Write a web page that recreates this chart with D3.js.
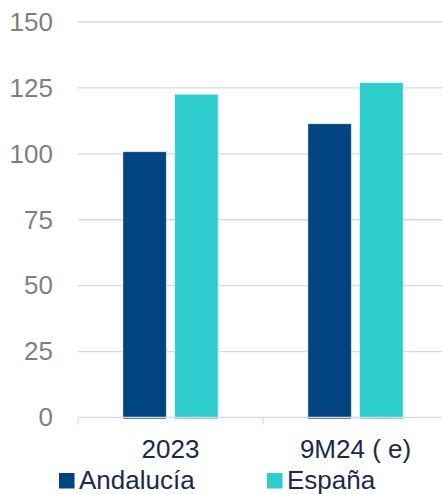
<!DOCTYPE html>
<html>
<head>
<meta charset="utf-8">
<script src="https://cdn.jsdelivr.net/npm/d3@7"></script>
<style>
  html, body { margin: 0; padding: 0; background: #fff; }
  svg { display: block; font-family: "Liberation Sans", Arial, sans-serif; }
</style>
</head>
<body>
<div id="chart"></div>
<script>
// Index values by period and region
const categories = ["2023", "9M24 ( e)"];
const seriesNames = ["Andalucía", "España"];
const andalucia = [100.8, 111.4];
const espana = [122.6, 127.0];
const yTicks = [0, 25, 50, 75, 100, 125, 150];
const colors = ["#004481", "#2dcccd"];

const width = 442, height = 494;
const margin = { top: 22, left: 78, bottom: 76.5 };
const plotRight = 448;
const fontSize = 26;

const svg = d3.select("#chart").append("svg")
  .attr("width", width).attr("height", height);

const y = d3.scaleLinear().domain([0, 150]).range([height - margin.bottom, margin.top]);
const x0 = d3.scaleBand().domain(categories).range([margin.left, plotRight]).paddingInner(0).paddingOuter(0);
const x1 = d3.scaleBand().domain(seriesNames).range([0, x0.bandwidth()]).paddingInner(0.162).paddingOuter(0.867);

// Horizontal gridlines
svg.append("g")
  .selectAll("line")
  .data(yTicks.filter(d => d > 0))
  .join("line")
  .attr("x1", margin.left).attr("x2", plotRight)
  .attr("y1", d => y(d)).attr("y2", d => y(d))
  .attr("stroke", "#d9d9d9").attr("stroke-width", 1.3);

// Y axis labels
const yAxis = d3.axisLeft(y).tickValues(yTicks).tickSize(0).tickPadding(25);
svg.append("g")
  .attr("transform", `translate(${margin.left},0)`)
  .call(yAxis)
  .call(g => g.select(".domain").remove())
  .call(g => g.selectAll("text")
    .attr("fill", "#7f7f7f")
    .attr("font-size", fontSize)
    .attr("font-family", "Liberation Sans, Arial, sans-serif"));

// Bars
const rows = categories.map((c, i) => ({ cat: c, values: [andalucia[i], espana[i]] }));
svg.append("g")
  .selectAll("g")
  .data(rows)
  .join("g")
  .attr("transform", d => `translate(${x0(d.cat)},0)`)
  .selectAll("rect")
  .data(d => d.values.map((v, j) => ({ name: seriesNames[j], v, j })))
  .join("rect")
  .attr("x", d => x1(d.name))
  .attr("width", x1.bandwidth())
  .attr("y", d => y(d.v))
  .attr("height", d => y(0) - y(d.v) + 1.5)
  .attr("fill", d => colors[d.j])
  .attr("stroke", "#ffffff")
  .attr("stroke-opacity", 0.6)
  .attr("stroke-width", 0.8);

// X axis baseline with category dividers
const xAxis = d3.axisBottom(x0).tickSize(0).tickPadding(22);
const xg = svg.append("g")
  .attr("transform", `translate(0,${y(0)})`)
  .call(xAxis);
xg.select(".domain").remove();
xg.selectAll("text")
  .attr("fill", "#1b2a4a")
  .attr("font-size", fontSize)
  .attr("font-family", "Liberation Sans, Arial, sans-serif");
xg.append("line")
  .attr("x1", margin.left).attr("x2", plotRight)
  .attr("y1", 0).attr("y2", 0)
  .attr("stroke", "#d9d9d9").attr("stroke-width", 1.3);
xg.selectAll("line.div")
  .data(x0.range().concat(categories.slice(1).map(c => x0(c))).filter(v => v < width))
  .join("line")
  .attr("class", "div")
  .attr("x1", d => d).attr("x2", d => d)
  .attr("y1", 0).attr("y2", 7)
  .attr("stroke", "#d9d9d9").attr("stroke-width", 1.3);

// Legend
const legendItems = [
  { name: seriesNames[0], color: colors[0], x: 59 },
  { name: seriesNames[1], color: colors[1], x: 267 }
];
const lg = svg.append("g");
const li = lg.selectAll("g").data(legendItems).join("g")
  .attr("transform", d => `translate(${d.x},473)`);
li.append("rect").attr("width", 15.5).attr("height", 15.5).attr("fill", d => d.color);
li.append("text")
  .attr("x", 20).attr("y", 15.5)
  .attr("fill", "#1b2a4a")
  .attr("font-size", fontSize)
  .text(d => d.name);
</script>
</body>
</html>
